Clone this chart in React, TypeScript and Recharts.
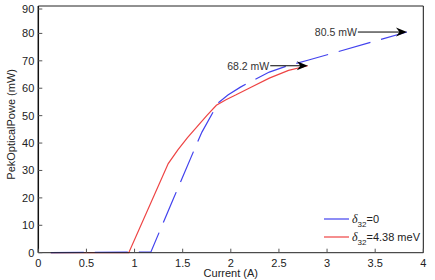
import React from "react";
import { LineChart, Line, XAxis, YAxis, ReferenceLine } from "recharts";

// δ32 = 0 (detuning-free) curve
const currentFlat = [0.13, 1.17, 1.4, 1.65, 1.7, 1.87, 1.97, 2.1, 2.2, 2.4, 2.6, 2.8, 3.83];
const powerFlat = [0, 0.3, 19.4, 40, 44, 54.7, 57.5, 60.4, 62.3, 65.9, 68.3, 70.2, 80.5];

// δ32 = 4.38 meV curve
const currentDetuned = [0.13, 0.94, 1.35, 1.45, 1.55, 1.65, 1.75, 1.85, 1.95, 2.05, 2.2, 2.4, 2.6, 2.8];
const powerDetuned = [0, 0, 32.5, 37.5, 42, 46, 50, 53.8, 55.8, 57.5, 60.2, 63.7, 66.5, 68.2];

const xTicks = [0, 0.5, 1, 1.5, 2, 2.5, 3, 3.5, 4];
const yTicks = [0, 10, 20, 30, 40, 50, 60, 70, 80, 90];

// where the annotation arrows start (in amps)
const arrowStartFlat = 3.32;
const arrowStartDetuned = 2.41;

const BLUE = "#4242ee";
const RED = "#ee4444";
const FONT = "'Liberation Sans', Arial, sans-serif";

const flatData = currentFlat.map((c, i) => ({ current: c, power: powerFlat[i] }));
const detunedData = currentDetuned.map((c, i) => ({ current: c, power: powerDetuned[i] }));

const peakFlat = powerFlat[powerFlat.length - 1];
const peakDetuned = powerDetuned[powerDetuned.length - 1];

// axis box: plot spans x 38.3..423.3, y 6..252.7
const BottomTick = (props: any) => {
  const { x, y, payload } = props;
  return (
    <g>
      <line x1={x} x2={x} y1={y} y2={y - 4} stroke="#555" />
      <text x={x} y={y + 14} textAnchor="middle" fontSize={11} fontFamily={FONT} fill="#222">
        {String(payload.value)}
      </text>
    </g>
  );
};

const TopTick = (props: any) => {
  const { x, y } = props;
  return <line x1={x} x2={x} y1={y} y2={y + 4} stroke="#555" />;
};

const LeftTick = (props: any) => {
  const { x, y, payload } = props;
  return (
    <g>
      <line x1={x} x2={x + 4} y1={y} y2={y} stroke="#555" />
      <text x={x - 4} y={y} dy="0.36em" textAnchor="end" fontSize={11} fontFamily={FONT} fill="#222">
        {String(payload.value)}
      </text>
    </g>
  );
};

const RightTick = (props: any) => {
  const { x, y } = props;
  return <line x1={x} x2={x - 4} y1={y} y2={y} stroke="#555" />;
};

const arrowShape = (text: string) => (props: any) => {
  const { x1, y1, x2, y2 } = props;
  return (
    <g>
      <line x1={x1} y1={y1} x2={x2 - 6} y2={y2} stroke="#000" strokeWidth={1} />
      <polygon
        points={`${x2},${y2} ${x2 - 11},${y2 - 4.5} ${x2 - 7.5},${y2} ${x2 - 11},${y2 + 4.5}`}
        fill="#000"
      />
      <text x={x1 - 1} y={y1} dy="0.36em" textAnchor="end" fontSize={10.5} fontFamily={FONT} fill="#333">
        {text}
      </text>
    </g>
  );
};

const delta = (value: string) => (
  <>
    <tspan fontStyle="italic" fontFamily="'Liberation Serif', serif" fontSize={12}>δ</tspan>
    <tspan fontSize={8} dy={4}>32</tspan>
    <tspan dy={-4}>{value}</tspan>
  </>
);

const LegendBox = () => (
  <svg width={110} height={42} style={{ position: "absolute", left: 322, top: 208 }}>
    <line x1={2} x2={27} y1={11} y2={11} stroke={BLUE} strokeWidth={1.2} />
    <text x={30} y={11} dy="0.36em" fontSize={11} fontFamily={FONT} fill="#222">
      {delta("=0")}
    </text>
    <line x1={2} x2={27} y1={29} y2={29} stroke={RED} strokeWidth={1.2} />
    <text x={30} y={29} dy="0.36em" fontSize={11} fontFamily={FONT} fill="#222">
      {delta("=4.38 meV")}
    </text>
  </svg>
);

export default function App() {
  return (
    <div style={{ position: "absolute", left: 0, top: 0, width: 435, height: 280, background: "#fff" }}>
      <LineChart
        width={435}
        height={280}
        margin={{ top: 5, right: 10.7, bottom: 7.3, left: 8.3 }}
        style={{ fontFamily: FONT }}
      >
        <XAxis
          dataKey="current"
          type="number"
          domain={[0, 4]}
          ticks={xTicks}
          height={20}
          tickSize={0}
          tickMargin={0}
          tickLine={false}
          tick={BottomTick}
          axisLine={{ stroke: "#222" }}
          allowDuplicatedCategory={false}
          label={{
            content: (p: any) => {
              const vb = p.viewBox || {};
              return (
                <text
                  x={vb.x + vb.width / 2}
                  y={vb.y + 24.5}
                  textAnchor="middle"
                  fontSize={11}
                  fontFamily={FONT}
                  fill="#222"
                >
                  Current (A)
                </text>
              );
            },
          }}
        />
        <XAxis
          xAxisId="top"
          orientation="top"
          type="number"
          domain={[0, 4]}
          ticks={xTicks}
          height={1}
          tickSize={0}
          tickMargin={0}
          tickLine={false}
          tick={TopTick}
          axisLine={{ stroke: "#222" }}
        />
        <YAxis
          type="number"
          domain={[0, 90]}
          ticks={yTicks}
          width={30}
          tickSize={0}
          tickMargin={0}
          tickLine={false}
          tick={LeftTick}
          axisLine={{ stroke: "#111", strokeWidth: 1.5 }}
          label={{
            content: (p: any) => {
              const vb = p.viewBox || {};
              const cx = 11;
              const cy = vb.y + vb.height / 2 - 5;
              return (
                <text
                  x={cx}
                  y={cy}
                  transform={`rotate(-90 ${cx} ${cy})`}
                  textAnchor="middle"
                  dy="0.36em"
                  fontSize={11}
                  fontFamily={FONT}
                  fill="#222"
                >
                  PekOpticalPowe (mW)
                </text>
              );
            },
          }}
        />
        <YAxis
          yAxisId="right"
          orientation="right"
          type="number"
          domain={[0, 90]}
          ticks={yTicks}
          width={1}
          tickSize={0}
          tickMargin={0}
          tickLine={false}
          tick={RightTick}
          axisLine={{ stroke: "#111" }}
        />
        <Line
          data={detunedData}
          dataKey="power"
          name="detuned"
          type="linear"
          stroke={RED}
          strokeWidth={1.2}
          dot={false}
          isAnimationActive={false}
        />
        <Line
          data={flatData}
          dataKey="power"
          name="flat"
          type="linear"
          stroke={BLUE}
          strokeWidth={1.2}
          strokeDasharray="33 11"
          dot={false}
          isAnimationActive={false}
        />
        <ReferenceLine
          segment={[
            { x: arrowStartDetuned, y: peakDetuned },
            { x: currentDetuned[currentDetuned.length - 1], y: peakDetuned },
          ]}
          ifOverflow="visible"
          shape={arrowShape(`${peakDetuned} mW`)}
        />
        <ReferenceLine
          segment={[
            { x: arrowStartFlat, y: peakFlat },
            { x: currentFlat[currentFlat.length - 1], y: peakFlat },
          ]}
          ifOverflow="visible"
          shape={arrowShape(`${peakFlat} mW`)}
        />
      </LineChart>
      <LegendBox />
    </div>
  );
}
